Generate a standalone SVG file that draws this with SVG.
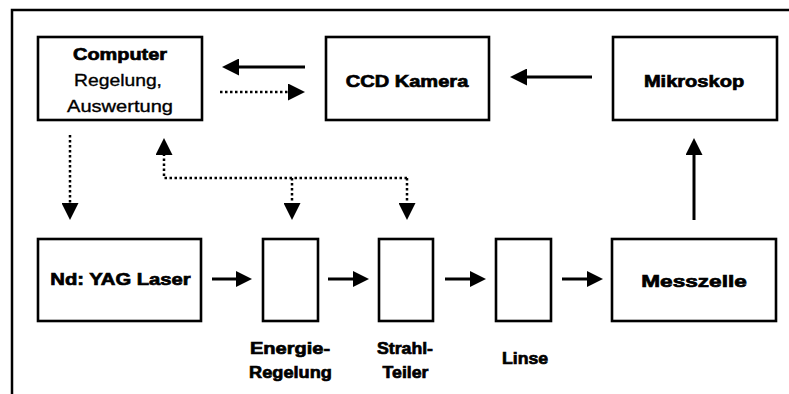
<svg xmlns="http://www.w3.org/2000/svg" width="789" height="394" viewBox="0 0 789 394">
<style>
.box{fill:#fff;stroke:#000;stroke-width:2.6}
.t{font-family:"Liberation Sans",Arial,sans-serif;font-size:17px;fill:#000;text-anchor:middle;stroke:#000;stroke-width:0.35}
.b{font-weight:bold;stroke-width:0.7}
.solid{fill:none;stroke:#000;stroke-width:3}
.dot{fill:none;stroke:#000;stroke-width:2.5;stroke-dasharray:2.5 2.5}
</style>
<defs>
<marker id="ah" viewBox="0 0 17 17" refX="0" refY="8.5" markerWidth="17" markerHeight="17" markerUnits="userSpaceOnUse" orient="auto">
<path d="M0,0 L17,8.5 L0,17 Z" fill="#000"/>
</marker>
<marker id="ahs" viewBox="0 0 16 16" refX="0" refY="8" markerWidth="16" markerHeight="16" markerUnits="userSpaceOnUse" orient="auto">
<path d="M0,0 L16,8 L0,16 Z" fill="#000"/>
</marker>
</defs>
<rect width="789" height="394" fill="#fff"/>
<path d="M12,394 V10 H789" fill="none" stroke="#000" stroke-width="2.5"/>

<g id="computer">
<rect class="box" x="38" y="37" width="164" height="83"/>
<text class="t b" transform="translate(120,60) scale(1.17,1)">Computer</text>
<text class="t" transform="translate(118,86) scale(1.135,1)">Regelung,</text>
<text class="t" transform="translate(120,112) scale(1.18,1)">Auswertung</text>
</g>
<g id="ccd">
<rect class="box" x="326" y="37" width="163" height="83"/>
<text class="t b" transform="translate(407,87) scale(1.18,1)">CCD Kamera</text>
</g>
<g id="mikroskop">
<rect class="box" x="613" y="37" width="164" height="83"/>
<text class="t b" transform="translate(694,87) scale(1.18,1)">Mikroskop</text>
</g>
<g id="laser">
<rect class="box" x="38" y="239" width="163" height="82"/>
<text class="t b" transform="translate(120.5,285) scale(1.19,1)">Nd: YAG Laser</text>
</g>
<g id="energie">
<rect class="box" x="263" y="239" width="55" height="82"/>
<text class="t b" transform="translate(290,354) scale(1.18,1)">Energie-</text>
<text class="t b" transform="translate(290.5,378) scale(1.07,1)">Regelung</text>
</g>
<g id="strahlteiler">
<rect class="box" x="379" y="239" width="54" height="82"/>
<text class="t b" transform="translate(405,354) scale(1.04,1)">Strahl-</text>
<text class="t b" transform="translate(405.5,378) scale(1.04,1)">Teiler</text>
</g>
<g id="linse">
<rect class="box" x="496" y="239" width="55" height="82"/>
<text class="t b" transform="translate(525,364) scale(1.04,1)">Linse</text>
</g>
<g id="messzelle">
<rect class="box" x="612" y="239" width="164" height="82"/>
<text class="t b" transform="translate(694,287) scale(1.33,1)">Messzelle</text>
</g>

<g id="connectors">
<path class="solid" d="M305,67 H239" marker-end="url(#ah)"/>
<path class="dot" d="M220,92 H288" marker-end="url(#ah)"/>
<path class="solid" d="M592,77 H527" marker-end="url(#ah)"/>
<path class="solid" d="M694,220 V155" marker-end="url(#ah)"/>
<path class="dot" d="M70,135 V203" marker-end="url(#ah)"/>
<path class="dot" d="M407,178 H164 V155" marker-end="url(#ah)"/>
<path class="dot" d="M292,178 V203" marker-end="url(#ah)"/>
<path class="dot" d="M407,178 V203" marker-end="url(#ah)"/>
<path class="solid" d="M212,279 H236" marker-end="url(#ahs)"/>
<path class="solid" d="M328,279 H353" marker-end="url(#ahs)"/>
<path class="solid" d="M445,279 H470" marker-end="url(#ahs)"/>
<path class="solid" d="M562,279 H587" marker-end="url(#ahs)"/>
</g>
</svg>
